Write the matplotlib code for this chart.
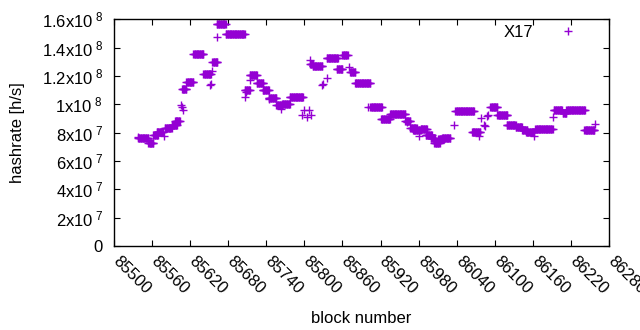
import numpy as np
import matplotlib.pyplot as plt
import matplotlib.transforms as mtransforms

plt.rcParams['font.family'] = ['Liberation Sans', 'DejaVu Sans']
plt.rcParams['mathtext.fontset'] = 'custom'
plt.rcParams['mathtext.rm'] = 'Liberation Sans'
plt.rcParams['mathtext.it'] = 'Liberation Sans'

# runs of blocks with the same hashrate (start block, end block, value in Mh/s)
run_start = [85538, 85554, 85562, 85567, 85580, 85591, 85596, 85607, 85614, 85625,
             85641, 85655, 85662, 85676, 85706, 85714, 85725, 85734, 85744, 85756,
             85765, 85777, 85809, 85813, 85835, 85851, 85860, 85872, 85880, 85904,
             85921, 85935, 85959, 85967, 85971, 85983, 85991, 85999, 86005, 86011,
             86017, 86038, 86064, 86093, 86104, 86119, 86133, 86143, 86149, 86164,
             86193, 86207, 86213, 86241]
run_end = [85554, 85562, 85569, 85577, 85591, 85599, 85604, 85614, 85625, 85641,
           85653, 85663, 85676, 85706, 85714, 85725, 85735, 85744, 85756, 85765,
           85777, 85798, 85814, 85828, 85853, 85860, 85868, 85880, 85904, 85922,
           85935, 85959, 85967, 85977, 85983, 85993, 86001, 86006, 86013, 86020,
           86030, 86067, 86077, 86104, 86120, 86133, 86143, 86151, 86162, 86191,
           86206, 86213, 86242, 86257]
run_value = [76.3, 72.9, 78.6, 80.2, 83.3, 85.2, 88.5, 110.9, 115.9, 135.2,
             121.1, 130.0, 157.0, 149.9, 110.4, 120.4, 115.2, 110.4, 104.3, 99.3,
             100.3, 105.3, 128.6, 126.9, 132.9, 125.1, 134.5, 122.9, 115.2, 98.2,
             89.9, 93.2, 88.0, 83.3, 82.1, 82.8, 78.6, 76.3, 72.9, 75.2,
             76.3, 95.1, 80.2, 98.2, 92.3, 85.7, 84.1, 82.1, 80.2, 82.8,
             96.3, 94.0, 96.3, 82.1]

# single blocks off the runs
single_block = [85538, 85579, 85605, 85607, 85609, 85652, 85653, 85655, 85663, 85706,
                85708, 85714, 85745, 85763, 85796, 85800, 85804, 85807, 85810, 85809,
                85828, 85830, 85835, 85870, 85901, 85961, 85981, 86035, 86075, 86079,
                86083, 86085, 86087, 86090, 86162, 86192, 86258]
single_value = [77.0, 77.9, 99.8, 97.9, 96.3, 113.5, 114.0, 123.4, 147.8, 105.3,
                108.5, 117.5, 103.9, 96.9, 92.7, 95.9, 91.1, 96.3, 92.7, 131.0,
                113.3, 114.5, 118.7, 126.5, 98.2, 87.5, 77.4, 85.7, 77.9, 90.4,
                85.7, 84.5, 91.6, 92.7, 77.4, 91.1, 86.4]

xticks = np.arange(85500, 86281, 60)
yticks = np.arange(0, 1.61e8, 2e7)
ylabels = ['0', '2x10$^{\\ 7}$', '4x10$^{\\ 7}$', '6x10$^{\\ 7}$', '8x10$^{\\ 7}$',
           '1x10$^{\\ 8}$', '1.2x10$^{\\ 8}$', '1.4x10$^{\\ 8}$', '1.6x10$^{\\ 8}$']

blocks = []
rates = []
for s, e, v in zip(run_start, run_end, run_value):
    for b in range(s, e + 1):
        blocks.append(b)
        rates.append(v * 1e6)
for b, v in zip(single_block, single_value):
    blocks.append(b)
    rates.append(v * 1e6)

fig = plt.figure(figsize=(6.4, 3.3), dpi=100)
ax = fig.add_axes([114 / 640, 1 - 246 / 330, 495 / 640, 226.7 / 330])

ax.plot(blocks, rates, linestyle='none', marker='+', markersize=6,
        markeredgewidth=1.0, color='#9400d3', label='X17')

ax.set_xlim(85500, 86280)
ax.set_ylim(0, 1.6e8)
ax.set_xticks(xticks)
ax.set_xticklabels([str(t) for t in xticks], rotation=-45, ha='left', va='center',
                   rotation_mode='anchor')
ax.set_yticks(yticks)
ax.set_yticklabels(ylabels)
ax.tick_params(direction='in', length=4.5, width=0.8, top=True, right=True,
               labelsize=12, colors='black')
ax.tick_params(axis='y', pad=8)
ax.tick_params(axis='x', pad=9)
offset = mtransforms.ScaledTranslation(1 / 72, 0, fig.dpi_scale_trans)
for lab in ax.get_xticklabels():
    lab.set_transform(lab.get_transform() + offset)
for sp in ax.spines.values():
    sp.set_linewidth(1.0)

ax.set_xlabel('block number', fontsize=12, labelpad=10)
ax.set_ylabel('hashrate [h/s]', fontsize=12, labelpad=12)

leg = ax.legend(loc='upper right', frameon=False, fontsize=12, markerfirst=False,
                handlelength=1.5, handletextpad=1.3, borderaxespad=0.3,
                bbox_to_anchor=(0.965, 1.026))

fig.savefig('out.png', dpi=100)
